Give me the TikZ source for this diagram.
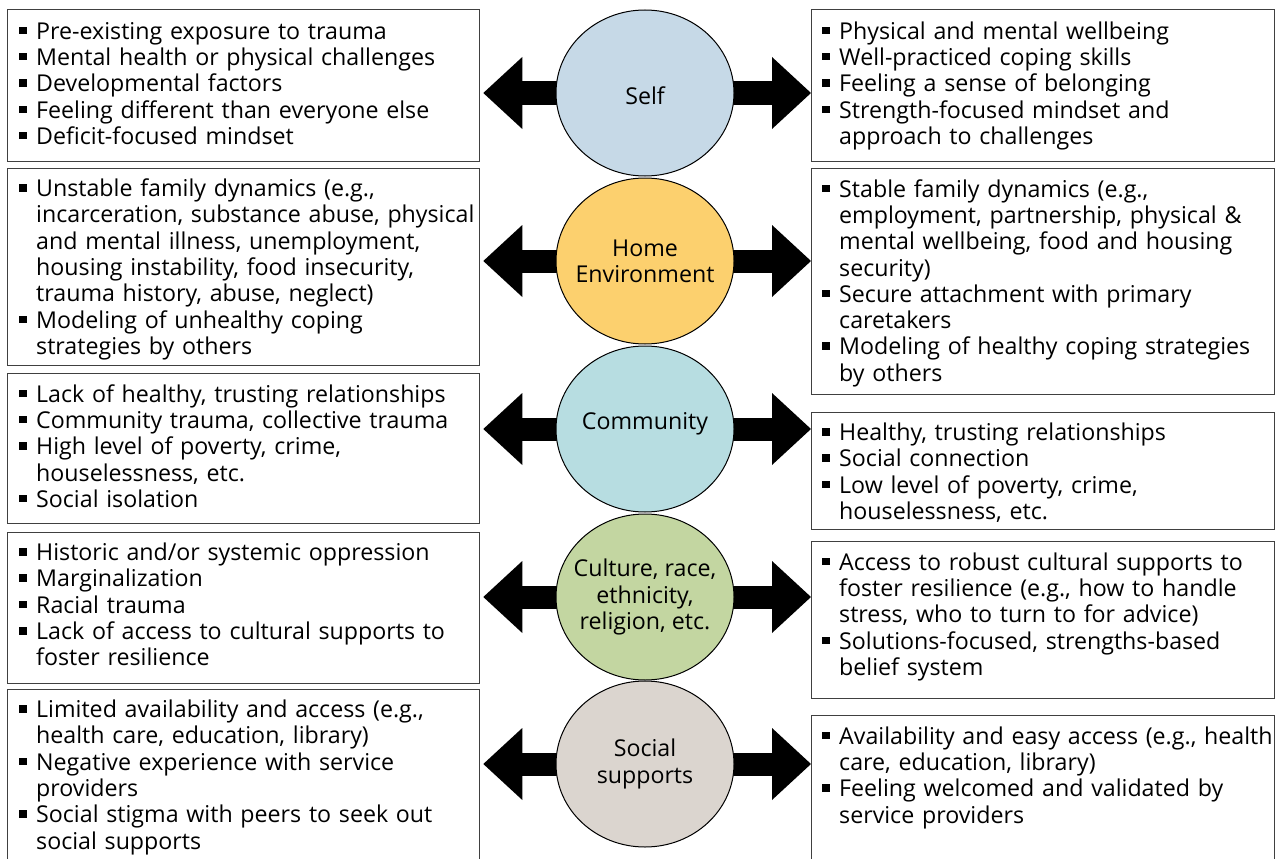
\documentclass[tikz,border=0pt]{standalone}
\usepackage{fontspec}
\setmainfont{Open Sans}
\usetikzlibrary{shapes.geometric,arrows.meta,backgrounds}

\definecolor{selfblue}{RGB}{198,217,231}
\definecolor{homegold}{RGB}{252,208,110}
\definecolor{commaqua}{RGB}{183,221,225}
\definecolor{cultgreen}{RGB}{195,214,161}
\definecolor{suppgray}{RGB}{219,213,207}

\newcommand{\bx}{\makebox[17pt][l]{\rule[5pt]{7.5pt}{7.5pt}}}
\newcommand{\ind}{\hspace*{17pt}}

\tikzset{every picture/.style={line width=0.75pt}}
\tikzset{
  circ/.style={ellipse, draw=black, line width=1pt, minimum width=178pt, minimum height=166pt, inner sep=0pt},
  lbl/.style={inner sep=0pt, align=center, font=\fontsize{23.2}{26.3}\selectfont},
  box/.style={rectangle, draw=black!75, line width=1.3pt, minimum width=472pt, anchor=north west, inner sep=0pt},
  txt/.style={anchor=north west, inner sep=0pt, text width=480pt, align=left, font=\fontsize{23.2}{26.3}\selectfont},
  blk/.style={line width=23pt, -{Triangle[width=72pt,length=39pt,line width=0pt]}}
}

\begin{document}
\begin{tikzpicture}[x=1pt,y=1pt,yscale=-1,xscale=1]
    \useasboundingbox (0,0) rectangle (1275,859);
    \clip (0,0) rectangle (1275,859);

    %Shape: Ellipse
    \node[circ, fill=selfblue] (self) at (645,93) {};
    \node[circ, fill=homegold] (home) at (645,261) {};
    \node[circ, fill=commaqua] (comm) at (645,429) {};
    \node[circ, fill=cultgreen] (cult) at (645,597) {};
    \node[circ, fill=suppgray] (supp) at (645,764) {};

    % Text Node
    \node[lbl] (selft) at ([yshift=3pt]self.center) {Self};
    \node[lbl] (homet) at (home.center) {Home\\Environment};
    \node[lbl] (commt) at ([yshift=-5pt]comm.center) {Community};
    \node[lbl] (cultt) at (cult.center) {Culture, race,\\ethnicity,\\religion, etc.};
    \node[lbl] (suppt) at (supp.center) {Social\\supports};

    %Shape: Rectangle (left)
    \node[box, minimum height=152pt] (lself) at (7,9) {};
    \node[box, minimum height=197pt] (lhome) at (7,168) {};
    \node[box, minimum height=150pt] (lcomm) at (7,373) {};
    \node[box, minimum height=151pt] (lcult) at (7,532) {};
    \node[box, minimum height=200pt] (lsupp) at (7,689) {};
    %Shape: Rectangle (right)
    \node[box, minimum width=463pt, minimum height=152pt] (rself) at (811,9) {};
    \node[box, minimum width=463pt, minimum height=226pt] (rhome) at (811,168) {};
    \node[box, minimum width=463pt, minimum height=117pt] (rcomm) at (811,412) {};
    \node[box, minimum width=463pt, minimum height=157pt] (rcult) at (811,541) {};
    \node[box, minimum width=463pt, minimum height=200pt] (rsupp) at (811,715) {};

    %Block Arrows
    \begin{pgfonlayer}{background}
    \foreach \c/\l/\r in {self/lself/rself, home/lhome/rhome, comm/lcomm/rcomm, cult/lcult/rcult, supp/lsupp/rsupp}{
      \draw[blk, shorten >=3pt] (\c.center) -- (\c.center -| \l.east);
      \draw[blk] (\c.center) -- (\c.center -| \r.west);
    }
    \end{pgfonlayer}

    % Text Node
    \node[txt] (lselft) at ([xshift=12pt,yshift=11.5pt]lself.north west) {\strut\bx Pre-existing exposure to trauma\\
      \bx Mental health or physical challenges\\
      \bx Developmental factors\\
      \bx Feeling different than everyone else\\
      \bx Deficit-focused mindset};
    % Text Node
    \node[txt] (lhomet) at ([xshift=12pt,yshift=10pt]lhome.north west) {\strut\bx Unstable family dynamics (e.g.,\\
      \ind incarceration, substance abuse, physical\\
      \ind and mental illness, unemployment,\\
      \ind housing instability, food insecurity,\\
      \ind trauma history, abuse, neglect)\\
      \bx Modeling of unhealthy coping\\
      \ind strategies by others};
    % Text Node
    \node[txt] (lcommt) at ([xshift=12pt,yshift=10.5pt]lcomm.north west) {\strut\bx Lack of healthy, trusting relationships\\
      \bx Community trauma, collective trauma\\
      \bx High level of poverty, crime,\\
      \ind houselessness, etc.\\
      \bx Social isolation};
    % Text Node
    \node[txt] (lcultt) at ([xshift=12pt,yshift=10pt]lcult.north west) {\strut\bx Historic and/or systemic oppression\\
      \bx Marginalization\\
      \bx Racial trauma\\
      \bx Lack of access to cultural supports to\\
      \ind foster resilience};
    % Text Node
    \node[txt] (lsuppt) at ([xshift=12pt,yshift=10pt]lsupp.north west) {\strut\bx Limited availability and access (e.g.,\\
      \ind health care, education, library)\\
      \bx Negative experience with service\\
      \ind providers\\
      \bx Social stigma with peers to seek out\\
      \ind social supports};

    % Text Node
    \node[txt] (rselft) at ([xshift=11pt,yshift=11.5pt]rself.north west) {\strut\bx Physical and mental wellbeing\\
      \bx Well-practiced coping skills\\
      \bx Feeling a sense of belonging\\
      \bx Strength-focused mindset and\\
      \ind approach to challenges};
    % Text Node
    \node[txt] (rhomet) at ([xshift=11pt,yshift=10.5pt]rhome.north west) {\strut\bx Stable family dynamics (e.g.,\\
      \ind employment, partnership, physical \&\\
      \ind mental wellbeing, food and housing\\
      \ind security)\\
      \bx Secure attachment with primary\\
      \ind caretakers\\
      \bx Modeling of healthy coping strategies\\
      \ind by others};
    % Text Node
    \node[txt] (rcommt) at ([xshift=11pt,yshift=10pt]rcomm.north west) {\strut\bx Healthy, trusting relationships\\
      \bx Social connection\\
      \bx Low level of poverty, crime,\\
      \ind houselessness, etc.};
    % Text Node
    \node[txt] (rcultt) at ([xshift=11pt,yshift=10.5pt]rcult.north west) {\strut\bx Access to robust cultural supports to\\
      \ind foster resilience (e.g., how to handle\\
      \ind stress, who to turn to for advice)\\
      \bx Solutions-focused, strengths-based\\
      \ind belief system};
    % Text Node
    \node[txt] (rsuppt) at ([xshift=11pt,yshift=10.5pt]rsupp.north west) {\strut\bx Availability and easy access (e.g., health\\
      \ind care, education, library)\\
      \bx Feeling welcomed and validated by\\
      \ind service providers};

\end{tikzpicture}
\end{document}
